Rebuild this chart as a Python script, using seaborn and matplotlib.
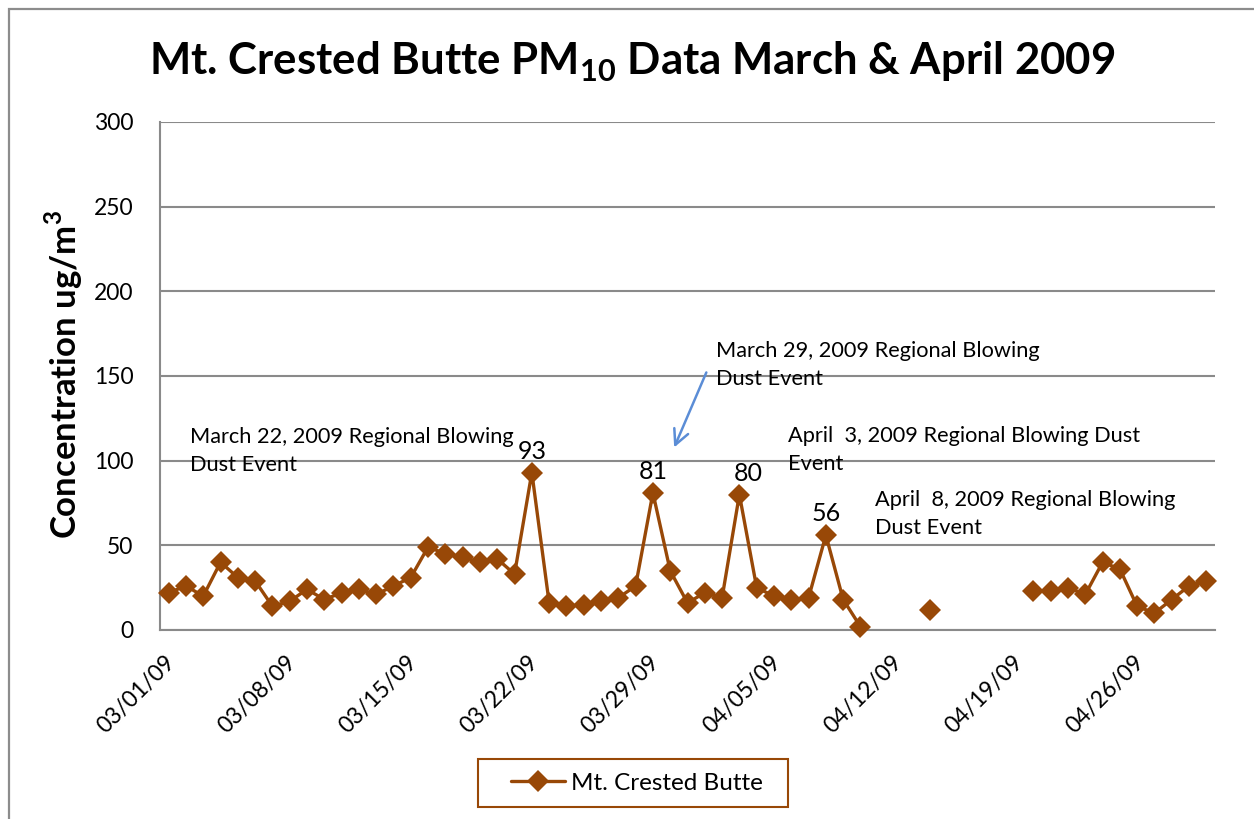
import numpy as np
import pandas as pd
import matplotlib
matplotlib.use("Agg")
import matplotlib.pyplot as plt
import matplotlib.dates as mdates
from matplotlib.lines import Line2D
from matplotlib.patches import Rectangle
from matplotlib.transforms import ScaledTranslation
import seaborn as sns

# Daily PM10 concentrations (ug/m3), Mt. Crested Butte, March-April 2009
start_date = "2009-03-01"
end_date = "2009-04-30"
march_pm10 = [22, 26, 20, 40, 31, 29, 14, 17, 24, 18, 22, 24, 21, 26, 31, 49,
              45, 43, 40, 42, 33, 93, 16, 14, 15, 17, 19, 26, 81, 35, 16]
april_pm10 = [22, 19, 80, 25, 20, 18, 19, 56, 18, 2, np.nan, np.nan, np.nan, 12,
              np.nan, np.nan, np.nan, np.nan, np.nan, 23, 23, 25, 21, 40, 36,
              14, 10, 18, 26, 29]

# Event days whose values are written above the marker
labelled_days = ["2009-03-22", "2009-03-29", "2009-04-03", "2009-04-08"]

series_name = "Mt. Crested Butte"
title = r"Mt. Crested Butte PM$_{\mathbf{10}}$ Data March & April 2009"
y_label = "Concentration ug/m$^{\\mathbf{3}}$"
y_ticks = [0, 50, 100, 150, 200, 250, 300]

BROWN = "#984807"
GRID = "#8a8a8a"
BLUE = "#5B8DD6"

sns.set_theme(style="white")
plt.rcParams["font.family"] = ["Lato", "DejaVu Sans"]
plt.rcParams["text.color"] = "black"
plt.rcParams["axes.labelcolor"] = "black"
plt.rcParams["mathtext.fontset"] = "custom"
plt.rcParams["mathtext.rm"] = "Lato"
plt.rcParams["mathtext.bf"] = "Lato:bold"

dates = pd.date_range(start_date, end_date, freq="D")
df = pd.DataFrame({"date": dates, "pm10": march_pm10 + april_pm10})
# markers sit in the middle of each day
df["x"] = df["date"] + pd.Timedelta(hours=12)
# contiguous runs of valid readings are drawn as separate lines
df["run"] = df["pm10"].isna().cumsum()
valid = df.dropna(subset=["pm10"])

fig = plt.figure(figsize=(12.54, 8.19), dpi=100)
ax = fig.add_axes([160 / 1254, 1 - 630 / 819, 1055 / 1254, 508 / 819])

sns.lineplot(data=valid, x="x", y="pm10", units="run", estimator=None,
             color=BROWN, lw=2.4, marker="D", markersize=11,
             markeredgewidth=0, legend=False, clip_on=False, zorder=5, ax=ax)

# axes styling
ax.set_ylim(0, 300)
ax.set_yticks(y_ticks)
ax.set_xlim(pd.Timestamp(start_date), pd.Timestamp("2009-05-01"))
ax.set_xticks(pd.date_range(start_date, "2009-04-26", freq="7D"))
ax.xaxis.set_major_formatter(mdates.DateFormatter("%m/%d/%y"))
ax.yaxis.grid(True, color=GRID, lw=1.5)
ax.xaxis.grid(False)
for side in ["top", "right"]:
    ax.spines[side].set_visible(False)
for side in ["left", "bottom"]:
    ax.spines[side].set_color(GRID)
    ax.spines[side].set_linewidth(1.5)
ax.tick_params(axis="both", which="major", direction="out", length=7,
               width=1.5, color=GRID, labelsize=16.5, labelcolor="black")
ax.tick_params(axis="y", pad=12)
ax.tick_params(axis="x", pad=14)
for lab in ax.get_xticklabels():
    lab.set_rotation(45)
    lab.set_ha("right")
    lab.set_va("center")
    lab.set_rotation_mode("anchor")
    lab.set_transform(lab.get_transform() +
                      ScaledTranslation(12 / 100, 0, fig.dpi_scale_trans))
ax.set_xlabel("")
ax.set_ylabel("")
fig.text(64 / 1254, 1 - 374 / 819, y_label, rotation=90, ha="center",
         va="center", fontsize=25, fontweight="bold", color="black")

fig.suptitle(title, fontsize=31.5, fontweight="bold", x=632 / 1254,
             y=1 - 62 / 819, va="center", color="black")

# value labels above the event peaks
for day in labelled_days:
    row = df.loc[df["date"] == pd.Timestamp(day)].iloc[0]
    dx = 9 if day == "2009-04-03" else 0
    ax.annotate(f"{row['pm10']:.0f}", (row["x"], row["pm10"]),
                xytext=(dx * 0.72, 7), textcoords="offset points",
                ha="center", va="bottom", fontsize=18)

# event notes
notes = [
    ("2009-03-02 18:00", 105.7, "March 22, 2009 Regional Blowing\nDust Event"),
    ("2009-04-02 04:00", 156.5, "March 29, 2009 Regional Blowing\nDust Event"),
    ("2009-04-06 07:00", 106.3, "April  3, 2009 Regional Blowing Dust\nEvent"),
    ("2009-04-11 08:00", 68.5, "April  8, 2009 Regional Blowing\nDust Event"),
]
for when, yv, txt in notes:
    ax.text(pd.Timestamp(when), yv, txt, ha="left", va="center",
            fontsize=15.7, linespacing=1.5, color="black")

ax.annotate("", xy=(pd.Timestamp("2009-03-30 16:00"), 106.3),
            xytext=(pd.Timestamp("2009-04-01 15:40"), 153.6),
            arrowprops=dict(arrowstyle="->,head_length=0.9,head_width=0.45",
                            color=BLUE, lw=1.8))

# legend: entry without its own frame, boxed by a plain rectangle
handle = Line2D([], [], color=BROWN, lw=2.4, marker="D", markersize=11,
                markeredgewidth=0)
fig.legend([handle], [series_name], loc="center",
           bbox_to_anchor=(637 / 1254, 1 - 783 / 819), fontsize=17.5,
           frameon=False, handlelength=2.2, borderpad=0,
           handletextpad=0.25, borderaxespad=0)
fig.add_artist(Rectangle((478 / 1254, 1 - 807 / 819), 310 / 1254, 48 / 819,
                         transform=fig.transFigure, fill=False,
                         edgecolor=BROWN, lw=1.5))

# chart-area border
fig.add_artist(Rectangle((8.5 / 1254, -0.1), 1.2, 1.1 - 9.5 / 819,
                         transform=fig.transFigure, fill=False,
                         edgecolor="#8c8c8c", lw=1.6))

fig.savefig("out.png", dpi=100)
